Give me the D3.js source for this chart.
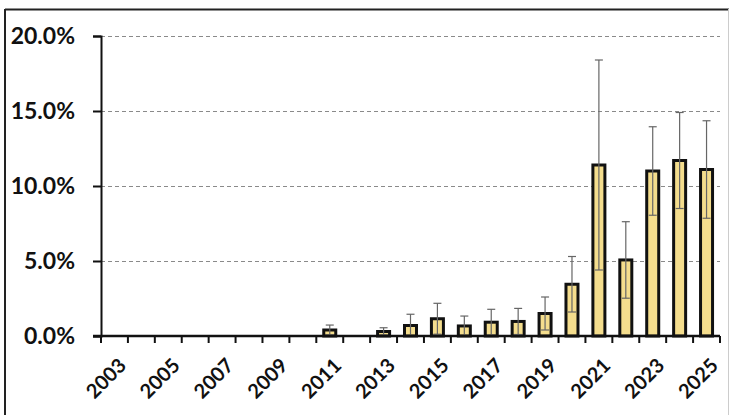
<!DOCTYPE html>
<html>
<head>
<meta charset="utf-8">
<script src="https://cdn.jsdelivr.net/npm/d3@7"></script>
<style>
  html, body { margin: 0; padding: 0; background: #fff; }
  svg { display: block; }
</style>
</head>
<body>
<script>
const years = ["2003","2004","2005","2006","2007","2008","2009","2010","2011","2012","2013","2014","2015","2016","2017","2018","2019","2020","2021","2022","2023","2024","2025"];
const values = [0,0,0,0,0,0,0,0,0.40,0,0.30,0.70,1.15,0.67,0.92,0.97,1.50,3.45,11.40,5.07,11.00,11.70,11.10];
const errors = [0,0,0,0,0,0,0,0,0.33,0,0.25,0.75,1.03,0.66,0.86,0.87,1.10,1.85,7.00,2.55,2.95,3.20,3.25];
const yTicks = [0, 5, 10, 15, 20];
const xLabels = ["2003","2005","2007","2009","2011","2013","2015","2017","2019","2021","2023","2025"];

const W = 734, H = 415;
const m = { left: 101, right: 14, top: 36, bottom: 79 };

const svg = d3.select("body").append("svg").attr("width", W).attr("height", H);

// outer frame
svg.append("line").attr("x1", 5).attr("x2", 729).attr("y1", 9.5).attr("y2", 9.5).attr("stroke", "#222").attr("stroke-width", 2);
svg.append("line").attr("x1", 5).attr("x2", 5).attr("y1", 9).attr("y2", H).attr("stroke", "#222").attr("stroke-width", 2);
svg.append("line").attr("x1", 728.5).attr("x2", 728.5).attr("y1", 9).attr("y2", H).attr("stroke", "#ccc").attr("stroke-width", 1);

const x = d3.scaleBand().domain(years).range([m.left, W - m.right]).padding(0);
const y = d3.scaleLinear().domain([0, 20]).range([H - m.bottom, m.top]);

// gridlines
svg.append("g").selectAll("line").data(yTicks.filter(d => d > 0)).join("line")
  .attr("x1", m.left).attr("x2", W - m.right)
  .attr("y1", d => Math.round(y(d)) + 0.5).attr("y2", d => Math.round(y(d)) + 0.5)
  .attr("stroke", "#8a8a8a").attr("stroke-width", 1).attr("stroke-dasharray", "4,3");

// bars
const data = years.map((yr, i) => ({ yr, v: values[i], e: errors[i] })).filter(d => d.v > 0);
const bw = 12;
svg.append("g").selectAll("rect").data(data).join("rect")
  .attr("x", d => x(d.yr) + x.bandwidth() / 2 - bw / 2)
  .attr("y", d => y(d.v))
  .attr("width", bw)
  .attr("height", d => y(0) - y(d.v))
  .attr("fill", "#f4dd8d")
  .attr("stroke", "#111").attr("stroke-width", 3);

// error bars
const eg = svg.append("g").attr("stroke", "#666").attr("stroke-width", 1.2);
data.forEach(d => {
  const cx = x(d.yr) + x.bandwidth() / 2;
  const lo = Math.max(0, d.v - d.e), hi = d.v + d.e;
  eg.append("line").attr("x1", cx).attr("x2", cx).attr("y1", y(lo)).attr("y2", y(hi));
  eg.append("line").attr("x1", cx - 4).attr("x2", cx + 4).attr("y1", y(hi)).attr("y2", y(hi));
  eg.append("line").attr("x1", cx - 4).attr("x2", cx + 4).attr("y1", y(lo)).attr("y2", y(lo));
});

// y axis
const yAxis = svg.append("g").attr("transform", `translate(${m.left},0)`)
  .call(d3.axisLeft(y).tickValues(yTicks).tickSize(8).tickFormat(d => d.toFixed(1) + "%"));
yAxis.select(".domain").attr("stroke", "#111").attr("stroke-width", 2);
yAxis.selectAll(".tick line").attr("stroke", "#111").attr("stroke-width", 2);
yAxis.selectAll(".tick text")
  .attr("x", -26)
  .attr("font-family", "Lato, 'Open Sans', sans-serif")
  .attr("font-weight", "bold").attr("font-size", 23).attr("fill", "#111");

// x axis line
svg.append("line").attr("x1", m.left - 8).attr("x2", W - m.right)
  .attr("y1", y(0)).attr("y2", y(0)).attr("stroke", "#111").attr("stroke-width", 2.5);
// x ticks at category boundaries
const bounds = years.map(yr => x(yr)).concat([x(years[years.length - 1]) + x.bandwidth()]);
svg.append("g").selectAll("line").data(bounds).join("line")
  .attr("x1", d => d).attr("x2", d => d)
  .attr("y1", y(0)).attr("y2", y(0) + 7)
  .attr("stroke", "#111").attr("stroke-width", 2);

// x labels
svg.append("g").selectAll("text").data(xLabels).join("text")
  .attr("transform", d => `translate(${x(d) + x.bandwidth() / 2 + 3},${y(0) + 21}) rotate(-45)`)
  .attr("text-anchor", "end")
  .attr("dy", "0.7em")
  .attr("font-family", "Lato, 'Open Sans', sans-serif")
  .attr("font-weight", "bold").attr("font-size", 20).attr("fill", "#111")
  .text(d => d);
</script>
</body>
</html>
